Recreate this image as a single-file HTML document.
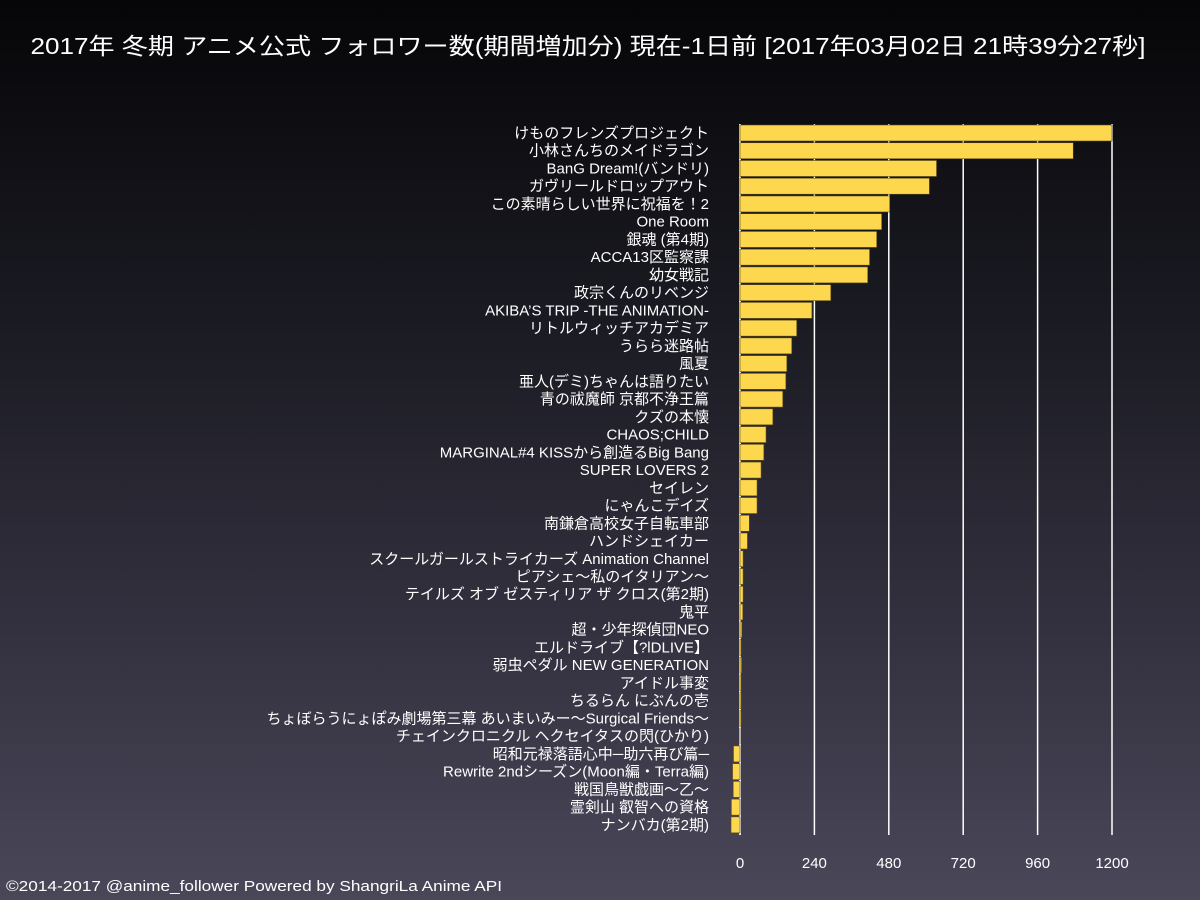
<!DOCTYPE html>
<html><head><meta charset="utf-8"><style>
html,body{margin:0;padding:0;}
body{width:1200px;height:900px;overflow:hidden;background:linear-gradient(#060608 0%,#1a1a22 35%,#33313f 70%,#4a4759 100%);font-family:"Liberation Sans","Noto Sans CJK JP",sans-serif;}
</style></head><body>
<svg id="chart" width="1200" height="900" xmlns="http://www.w3.org/2000/svg" style="position:absolute;left:0;top:0">
<text x="588" y="54" fill="#fff" font-size="23" text-anchor="middle" textLength="1115" lengthAdjust="spacingAndGlyphs" font-family="Liberation Sans, Noto Sans CJK JP, sans-serif">2017年 冬期 アニメ公式 フォロワー数(期間増加分) 現在-1日前 [2017年03月02日 21時39分27秒]</text>
<g id="grid"></g>
<line x1="740" x2="740" y1="124" y2="835" stroke="#fff" stroke-width="1.5"/>
<g id="bars"></g><g id="labels"></g><g id="ticks"></g>
<text x="6" y="891" fill="#fff" font-size="15" textLength="496" lengthAdjust="spacingAndGlyphs" font-family="Liberation Sans, Noto Sans CJK JP, sans-serif">©2014-2017 @anime_follower Powered by ShangriLa Anime API</text>
</svg>
<script>
const categories=["けものフレンズプロジェクト","小林さんちのメイドラゴン","BanG Dream!(バンドリ)","ガヴリールドロップアウト","この素晴らしい世界に祝福を！2","One Room","銀魂 (第4期)","ACCA13区監察課","幼女戦記","政宗くんのリベンジ","AKIBA’S TRIP -THE ANIMATION-","リトルウィッチアカデミア","うらら迷路帖","風夏","亜人(デミ)ちゃんは語りたい","青の祓魔師 京都不浄王篇","クズの本懐","CHAOS;CHILD","MARGINAL#4 KISSから創造るBig Bang","SUPER LOVERS 2","セイレン","にゃんこデイズ","南鎌倉高校女子自転車部","ハンドシェイカー","スクールガールストライカーズ Animation Channel","ピアシェ～私のイタリアン～","テイルズ オブ ゼスティリア ザ クロス(第2期)","鬼平","超・少年探偵団NEO","エルドライブ【?lDLIVE】","弱虫ペダル NEW GENERATION","アイドル事変","ちるらん にぶんの壱","ちょぼらうにょぽみ劇場第三幕 あいまいみー～Surgical Friends～","チェインクロニクル ヘクセイタスの閃(ひかり)","昭和元禄落語心中─助六再び篇─","Rewrite 2ndシーズン(Moon編・Terra編)","戦国鳥獣戯画～乙～","霊剣山 叡智への資格","ナンバカ(第2期)"];
const values=[1200,1075,634,611,483,457,441,418,412,293,232,183,167,151,148,138,106,84,77,68,55,55,30,24,10,10,10,9,6,4,5,4,4,4,0,-21,-24,-22,-28,-29];
const ticks=[0,240,480,720,960,1200];
const NS="http://www.w3.org/2000/svg";
const X0=740,X1=1112,GTOP=124,GBOT=835,STEP=17.74,ROWTOP=125,BH=16;
const xs=v=>X0+(v/1200)*(X1-X0);
function mk(t,a,p){const e=document.createElementNS(NS,t);for(const k in a)e.setAttribute(k,a[k]);p.appendChild(e);return e;}
const gG=document.getElementById('grid'),gB=document.getElementById('bars'),gL=document.getElementById('labels'),gT=document.getElementById('ticks');
ticks.forEach(t=>{
 const ln=mk('line',{x1:xs(t),x2:xs(t),y1:GTOP,y2:GBOT,stroke:'#fff','stroke-width':1.5},gG);
 
 
 const tx=mk('text',{x:xs(t),y:868,fill:'#fff','font-size':15,'text-anchor':'middle'},gT);
 tx.textContent=t;
 
 
});
categories.forEach((c,i)=>{
 const v=values[i],y=ROWTOP+i*STEP;
 const r=mk('rect',{x:Math.min(xs(0),xs(v)),y:y,width:Math.max(Math.abs(xs(v)-xs(0)),0.01),height:BH,fill:'#fdd84f',stroke:'#5a4a1a','stroke-width':0.6},gB);
 
 
 const t=mk('text',{x:709,y:y+13,fill:'#fff','font-size':15,'text-anchor':'end'},gL);
 t.textContent=c;
 
 
});
</script>
</body></html>
